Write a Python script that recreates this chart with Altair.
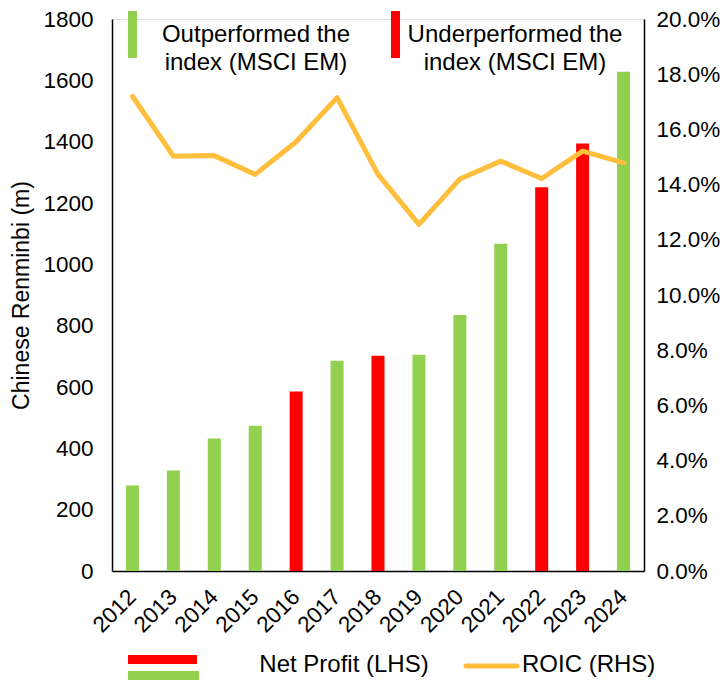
import altair as alt
import pandas as pd

# ---- data ----
years = ["2012", "2013", "2014", "2015", "2016", "2017", "2018",
         "2019", "2020", "2021", "2022", "2023", "2024"]
net_profit = [279, 328, 432, 474, 585, 686, 702, 705, 835, 1067, 1251, 1394, 1628]
performance = ["Out", "Out", "Out", "Out", "Under", "Out", "Under",
               "Out", "Out", "Out", "Under", "Under", "Out"]
roic = [0.172, 0.1503, 0.1505, 0.1437, 0.1555, 0.1715, 0.1437,
        0.1256, 0.142, 0.1485, 0.1422, 0.1521, 0.1479]

left_ticks = [0, 200, 400, 600, 800, 1000, 1200, 1400, 1600, 1800]
right_ticks = [0, 0.02, 0.04, 0.06, 0.08, 0.10, 0.12, 0.14, 0.16, 0.18, 0.20]

GREEN = "#92D050"
RED = "#FF0000"
ORANGE = "#FFBE3C"
FONT = "Liberation Sans"
FS = 22.5
LFS = 24

W, H = 532, 552

df = pd.DataFrame({"year": years, "net_profit": net_profit,
                   "perf": performance, "roic": roic})

x_enc = alt.X("year:N", scale=alt.Scale(domain=years, paddingInner=0, paddingOuter=0),
              axis=alt.Axis(title=None, labelAngle=-45, labelAlign="right",
                            labelBaseline="middle", labelFontSize=FS, labelPadding=22,
                            ticks=False, domainColor="black", domainWidth=1.5,
                            labelColor="black", grid=False))

bars = alt.Chart(df).mark_bar(size=13).encode(
    x=x_enc,
    y=alt.Y("net_profit:Q", scale=alt.Scale(domain=[0, 1800], nice=False),
            axis=alt.Axis(title="Chinese Renminbi (m)", values=left_ticks, format="d",
                          ticks=False, grid=False, domainColor="black", domainWidth=1.5,
                          labelFontSize=FS, labelPadding=19, labelColor="black",
                          titleFontSize=23, titleFontWeight="normal", titleColor="black",
                          titlePadding=9)),
    color=alt.Color("perf:N", scale=alt.Scale(domain=["Out", "Under"], range=[GREEN, RED]),
                    legend=None),
)

line = alt.Chart(df).mark_line(color=ORANGE, strokeWidth=5, strokeCap="round",
                               strokeJoin="round").encode(
    x=alt.X("year:N", scale=alt.Scale(domain=years, paddingInner=0, paddingOuter=0)),
    y=alt.Y("roic:Q", scale=alt.Scale(domain=[0, 0.2], nice=False),
            axis=alt.Axis(title=None, orient="right", values=right_ticks, format=".1%",
                          ticks=False, grid=False, domainColor="black", domainWidth=1.5,
                          labelFontSize=FS, labelPadding=12, labelColor="black")),
)

main = alt.layer(bars, line).resolve_scale(y="independent")

# ---- legends (drawn manually) ----
one = pd.DataFrame({"k": [0]})


def rect(x1, x2, y1, y2, color):
    return alt.Chart(one).mark_rect(color=color).encode(
        x=alt.value(x1), x2=alt.value(x2), y=alt.value(y1), y2=alt.value(y2))


def text(t, x, y, align="center"):
    return alt.Chart(one).mark_text(text=t, font=FONT, fontSize=LFS, color="black",
                                    align=align, baseline="middle").encode(
        x=alt.value(x), y=alt.value(y))


legend_top = [
    rect(16, 25, -8, 39, GREEN),
    text("Outperformed the", 144, 16),
    text("index (MSCI EM)", 144, 44),
    rect(279, 288, -8, 39, RED),
    text("Underperformed the", 403, 16),
    text("index (MSCI EM)", 403, 44),
]

legend_bottom = [
    rect(16, 85, 636, 645, RED),
    rect(16, 87, 652, 661, GREEN),
    text("Net Profit (LHS)", 232, 646),
    alt.Chart(one).mark_rule(color=ORANGE, strokeWidth=5, strokeCap="round").encode(
        x=alt.value(354), x2=alt.value(405), y=alt.value(647)),
    text("ROIC (RHS)", 410, 646, align="left"),
]

chart = alt.layer(main, *legend_top, *legend_bottom).properties(
    width=W, height=H, padding={"left": 2, "top": 0, "right": 0, "bottom": 0}
).configure_view(stroke=None).configure(font=FONT)

chart.save("out.html", embed_options={"renderer": "svg", "actions": False})
